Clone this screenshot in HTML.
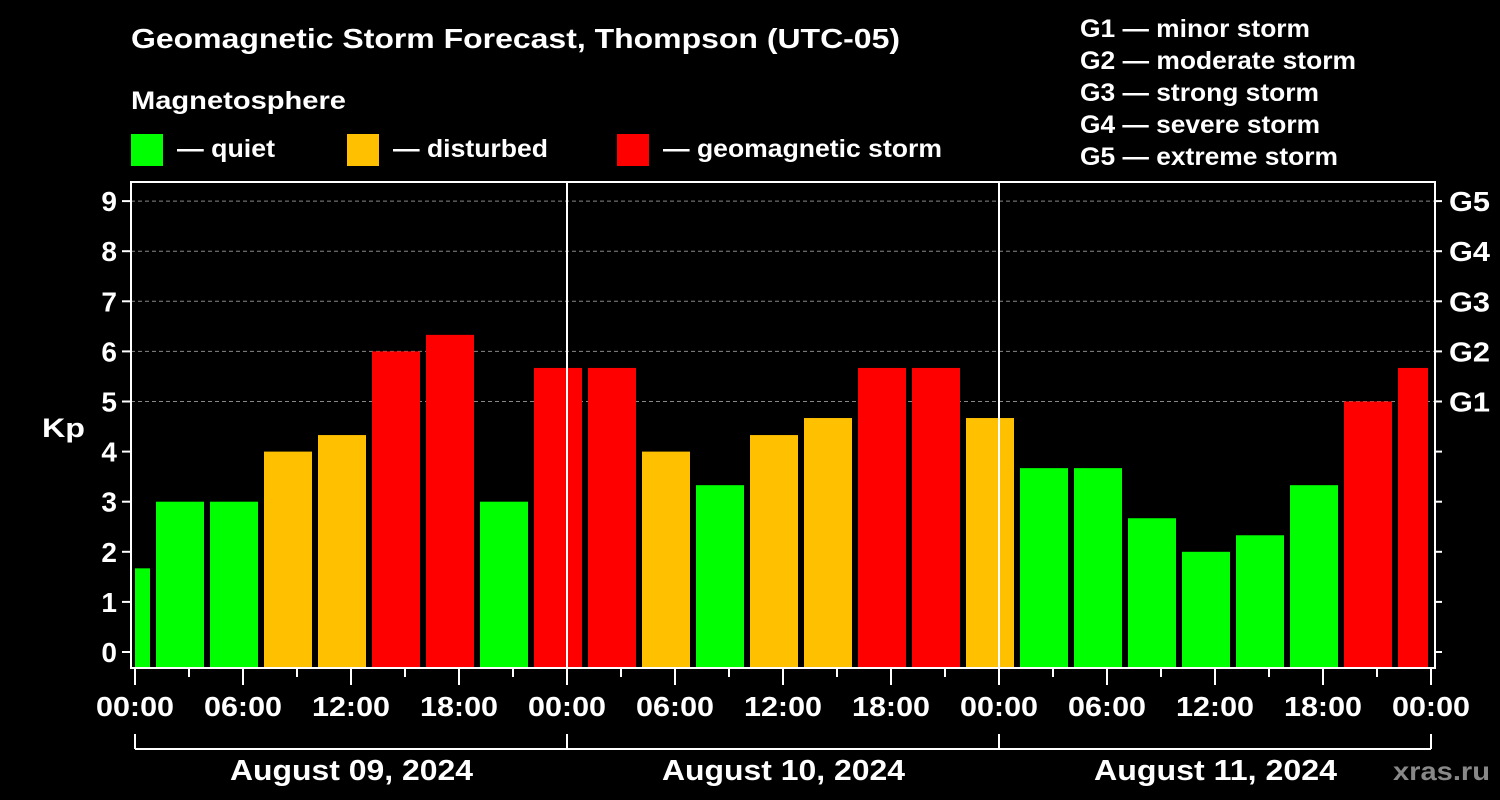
<!DOCTYPE html>
<html><head><meta charset="utf-8"><style>
body{margin:0;background:#000;width:1500px;height:800px;overflow:hidden}
svg{display:block;font-family:"Liberation Sans",Arial,sans-serif;font-weight:bold}
</style></head><body>
<svg id="c" width="1500" height="800">
<text x="131" y="48" fill="#fff" font-size="28" textLength="769" lengthAdjust="spacingAndGlyphs">Geomagnetic Storm Forecast, Thompson (UTC-05)</text>
<text x="131" y="109" fill="#fff" font-size="25" textLength="215" lengthAdjust="spacingAndGlyphs">Magnetosphere</text>
<rect x="131" y="134" width="32" height="32" fill="#00ff00"/>
<text x="177" y="157" fill="#fff" font-size="25" textLength="98" lengthAdjust="spacingAndGlyphs">— quiet</text>
<rect x="347" y="134" width="32" height="32" fill="#ffc000"/>
<text x="393" y="157" fill="#fff" font-size="25" textLength="155" lengthAdjust="spacingAndGlyphs">— disturbed</text>
<rect x="617" y="134" width="32" height="32" fill="#ff0000"/>
<text x="663" y="157" fill="#fff" font-size="25" textLength="279" lengthAdjust="spacingAndGlyphs">— geomagnetic storm</text>
<g fill="#fff" font-size="25">
<text x="1080" y="37" textLength="230" lengthAdjust="spacingAndGlyphs">G1 — minor storm</text>
<text x="1080" y="69" textLength="276" lengthAdjust="spacingAndGlyphs">G2 — moderate storm</text>
<text x="1080" y="101" textLength="239" lengthAdjust="spacingAndGlyphs">G3 — strong storm</text>
<text x="1080" y="133" textLength="240" lengthAdjust="spacingAndGlyphs">G4 — severe storm</text>
<text x="1080" y="165" textLength="258" lengthAdjust="spacingAndGlyphs">G5 — extreme storm</text>
</g>
<text x="42" y="437" fill="#fff" font-size="27" textLength="43" lengthAdjust="spacingAndGlyphs">Kp</text>
<g id="grid"></g><g id="bars"></g><g id="axes"></g>
<text x="1393" y="780" fill="#888" font-size="26" textLength="97" lengthAdjust="spacingAndGlyphs">xras.ru</text>
</svg>
<script>
const kpValues=[1.67,3,3,4,4.33,6,6.33,3,5.67,5.67,4,3.33,4.33,4.67,5.67,5.67,4.67,3.67,3.67,2.67,2,2.33,3.33,5,5.67];
const yTicks=[0,1,2,3,4,5,6,7,8,9];
const gLabels=["G1","G2","G3","G4","G5"];
const xTickLabels=["00:00","06:00","12:00","18:00","00:00","06:00","12:00","18:00","00:00","06:00","12:00","18:00","00:00"];
const dateLabels=["August 09, 2024","August 10, 2024","August 11, 2024"];
const NS="http://www.w3.org/2000/svg";
const L=131,R=1435,T=182,B=668,X0=135,HOUR=18;
const y=v=>652-v*50.1;
const x=h=>X0+h*HOUR;
function mk(p,tag,a){const e=document.createElementNS(NS,tag);for(const k in a)e.setAttribute(k,a[k]);document.getElementById(p).appendChild(e);return e;}
yTicks.forEach(v=>{
 if(v>=5){const g=mk('grid','line',{x1:L,x2:R,y1:y(v),y2:y(v),stroke:'#888','stroke-dasharray':'4,3'});
 }
 mk('axes','line',{x1:L-9,x2:L,y1:y(v),y2:y(v),stroke:'#fff','stroke-width':2});
 mk('axes','line',{x1:R,x2:R+7,y1:y(v),y2:y(v),stroke:'#fff','stroke-width':2});
 const t=mk('axes','text',{x:L-14,y:y(v)+10,'text-anchor':'end',fill:'#fff','font-size':28});t.textContent=v;
 
});
gLabels.forEach((g,i)=>{const t=mk('axes','text',{x:1449,y:y(5+i)+10,fill:'#fff','font-size':28,textLength:41,lengthAdjust:'spacingAndGlyphs'});t.textContent=g;
 });
kpValues.forEach((v,i)=>{
 const w=48;
 let left=102+54*i; let right=left+w;
 left=Math.max(left,X0);right=Math.min(right,1428);
 const col=v>=5?'#ff0000':v>=4?'#ffc000':'#00ff00';
 const r=mk('bars','rect',{x:left,y:y(v),width:right-left,height:B-y(v),fill:col});
 
});
[1,2].forEach(d=>mk('axes','line',{x1:x(24*d),x2:x(24*d),y1:T,y2:B,stroke:'#fff','stroke-width':2}));
mk('axes','rect',{x:L,y:T,width:R-L,height:B-T,fill:'none',stroke:'#fff','stroke-width':2});
for(let h=0;h<=72;h+=3){const maj=h%6==0;mk('axes','line',{x1:x(h),x2:x(h),y1:B,y2:B+(maj?17:9),stroke:'#fff','stroke-width':2});}
xTickLabels.forEach((s,i)=>{const t=mk('axes','text',{x:x(i*6)-39,y:716,fill:'#fff','font-size':28,textLength:78,lengthAdjust:'spacingAndGlyphs'});t.textContent=s;
 });
mk('axes','line',{x1:x(0),x2:x(72),y1:749,y2:749,stroke:'#fff','stroke-width':2});
[0,24,48,72].forEach(h=>mk('axes','line',{x1:x(h),x2:x(h),y1:734,y2:749,stroke:'#fff','stroke-width':2}));
dateLabels.forEach((s,i)=>{const t=mk('axes','text',{x:x(24*i+12)-121,y:780,fill:'#fff','font-size':29,textLength:243,lengthAdjust:'spacingAndGlyphs'});t.textContent=s;
 });
</script>
</body></html>
